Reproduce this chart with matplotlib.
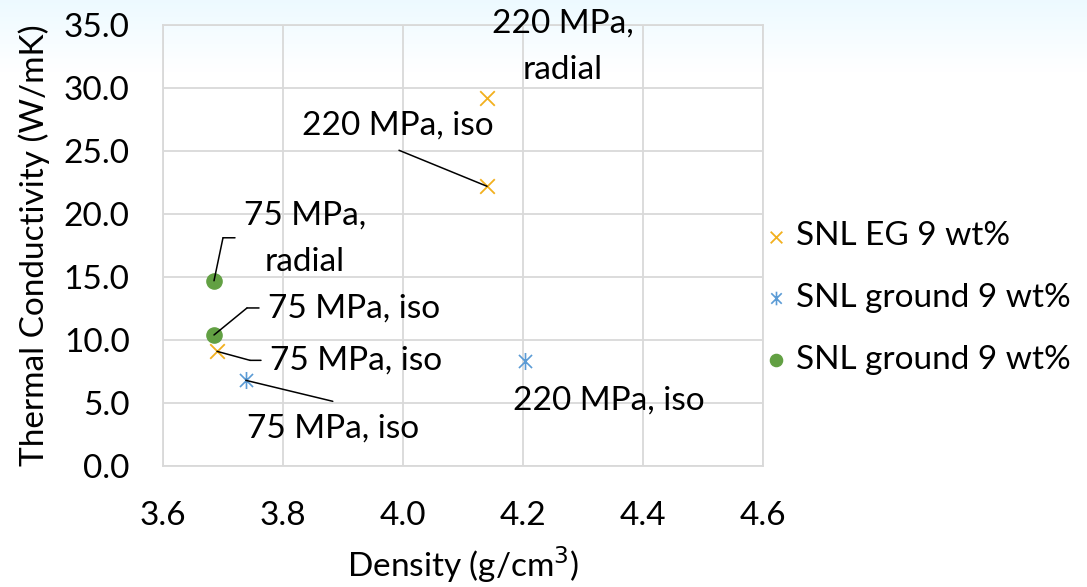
import matplotlib.pyplot as plt
import numpy as np
from matplotlib.path import Path

plt.rcParams['font.family'] = ['Lato', 'DejaVu Sans']

# data
eg_density = [4.14, 4.14, 3.69]
eg_cond = [29.2, 22.2, 9.1]
ground_density = [3.738, 4.203]
ground_cond = [6.8, 8.3]
green_density = [3.685, 3.685]
green_cond = [14.7, 10.4]

series_labels = ['SNL EG 9 wt%', 'SNL ground 9 wt%', 'SNL ground 9 wt%']
xticks = [3.6, 3.8, 4.0, 4.2, 4.4, 4.6]
yticks = [0, 5, 10, 15, 20, 25, 30, 35]

c_eg = '#F2B01E'
c_ground = '#5B9BD5'
c_green = '#62A043'

# excel-style star marker: x with a vertical stroke
star = Path([(-1, -1), (1, 1), (-1, 1), (1, -1), (0, -1.3), (0, 1.3)],
            [Path.MOVETO, Path.LINETO, Path.MOVETO, Path.LINETO, Path.MOVETO, Path.LINETO])

fig = plt.figure(figsize=(10.87, 5.87), dpi=100)

# faint bluish wash at the top of the slide
bg = fig.add_axes([0, 0, 1, 1], zorder=-10)
grad = np.linspace(0, 1, 200)[:, None]
img = np.ones((200, 10, 3))
fade = np.clip((grad - 0.88) / 0.12, 0, 1)
img[:, :, 0] -= 0.07 * fade
img[:, :, 1] -= 0.02 * fade
bg.imshow(img, aspect='auto', extent=[0, 1, 0, 1], origin='lower')
bg.axis('off')

ax = fig.add_axes([163 / 1087, 1 - 466 / 587, 600 / 1087, 441 / 587])
ax.patch.set_alpha(0)

ax.scatter(eg_density, eg_cond, marker='x', s=110, c=c_eg, linewidths=1.3,
           label=series_labels[0], zorder=3)
ax.scatter(ground_density, ground_cond, marker=star, s=150, c=c_ground, linewidths=1.2,
           label=series_labels[1], zorder=3)
ax.scatter(green_density, green_cond, marker='o', s=120, c=c_green,
           label=series_labels[2], zorder=3)

fs = 24

ax.set_xlim(3.6, 4.6)
ax.set_ylim(0, 35)
ax.set_xticks(xticks)
ax.set_xticklabels([f'{v:.1f}' for v in xticks])
ax.set_yticks(yticks)
ax.set_yticklabels([f'{v:.1f}' for v in yticks])
ax.grid(True, color='#D9D9D9', linewidth=1.3)
ax.set_axisbelow(True)
for s in ax.spines.values():
    s.set_color('#D9D9D9')
    s.set_linewidth(1.3)
ax.tick_params(length=0, labelsize=fs)
ax.tick_params(axis='x', pad=25)
ax.tick_params(axis='y', pad=24)

ax.set_xlabel('Density (g/cm$^3$)', fontsize=fs, labelpad=10)
ax.set_ylabel('Thermal Conductivity (W/mK)', fontsize=fs, labelpad=10)

line = dict(arrowstyle='-', color='black', lw=1.1, shrinkA=0, shrinkB=0)

def note(txt, x, y, dx, dy, ha='center'):
    ax.annotate(txt, (x, y), xytext=(dx, dy), textcoords='offset pixels',
                ha=ha, va='center', fontsize=fs, linespacing=1.7,
                annotation_clip=False)

def leader(x, y, pts):
    # polyline from the data point through pixel offsets
    px, py = 0, 0
    for dx, dy in pts:
        ax.annotate('', (x + px / 600, y + py * 35 / 441),
                    xytext=(dx - px, dy - py), textcoords='offset pixels',
                    arrowprops=line)
        px, py = dx, dy

# labels on the EG points
note('220 MPa,\nradial', eg_density[0], eg_cond[0], 76, 51)
note('220 MPa, iso', eg_density[1], eg_cond[1], -89, 61)
leader(eg_density[1], eg_cond[1], [(-88, 36)])
note('75 MPa, iso', eg_density[2], eg_cond[2], 53, -9, ha='left')
leader(eg_density[2], eg_cond[2], [(33, -9), (44, -9)])

# labels on the ground points
note('75 MPa, iso', ground_density[0], ground_cond[0], 1, -48, ha='left')
leader(ground_density[0], ground_cond[0], [(87, -21)])
note('220 MPa, iso', ground_density[1], ground_cond[1], -12, -39, ha='left')

# labels on the green points
note('75 MPa,\nradial', green_density[0], green_cond[0], 91, 42)
leader(green_density[0], green_cond[0], [(9, 43), (21, 43)])
note('75 MPa, iso', green_density[1], green_cond[1], 54, 26, ha='left')
leader(green_density[1], green_cond[1], [(33, 27), (45, 27)])

ax.legend(loc='center left', bbox_to_anchor=(1.0, 0.381), frameon=False, fontsize=fs,
          handletextpad=0.3, labelspacing=0.95, borderaxespad=0, borderpad=0.1,
          handlelength=0.6, scatterpoints=1, markerscale=0.8)

fig.savefig('out.png', dpi=100)
